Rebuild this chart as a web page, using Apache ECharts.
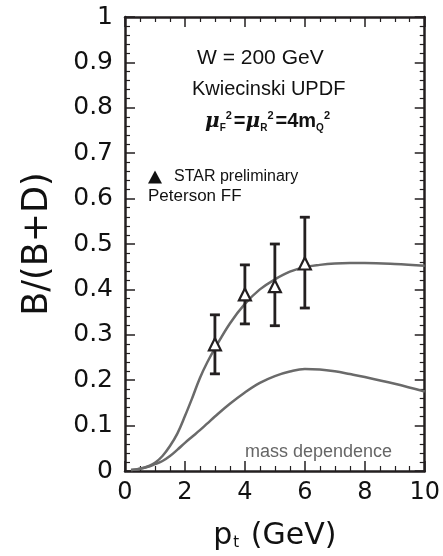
<!DOCTYPE html>
<html>
<head>
<meta charset="utf-8">
<script src="https://cdn.jsdelivr.net/npm/echarts@6/dist/echarts.min.js"></script>
<style>html,body{margin:0;padding:0;background:#fff;}#c{width:443px;height:556px;}</style>
</head>
<body>
<div id="c"></div>
<script>
// Data
const dataPt = [3, 4, 5, 6];
const dataRatio = [0.279, 0.389, 0.407, 0.457];
const dataLow = [0.214, 0.324, 0.320, 0.359];
const dataHigh = [0.344, 0.454, 0.500, 0.559];

const curvePt = [0.2, 0.5, 0.8, 1.0, 1.25, 1.5, 1.75, 2, 2.25, 2.5, 2.75, 3, 3.5, 4, 4.5, 5, 5.5, 6, 6.5, 7, 7.5, 8, 9, 10];
const curveUpper = [0.002, 0.005, 0.011, 0.018, 0.033, 0.055, 0.083, 0.121, 0.162, 0.205, 0.240, 0.270, 0.325, 0.368, 0.400, 0.422, 0.439, 0.449, 0.454, 0.457, 0.458, 0.458, 0.456, 0.452];
const curveLower = [0.002, 0.005, 0.010, 0.015, 0.022, 0.033, 0.047, 0.062, 0.076, 0.090, 0.105, 0.120, 0.148, 0.173, 0.194, 0.209, 0.219, 0.2245, 0.2235, 0.2195, 0.2135, 0.207, 0.192, 0.175];

const xTicks = {min: 0, max: 10, interval: 2};
const yTicks = {min: 0, max: 1, interval: 0.1};

const seriesNames = {data: 'STAR preliminary', upper: 'Peterson FF', lower: 'mass dependence'};

const AX = '#231f20';
const CURVE = '#6a6a6a';

const chart = echarts.init(document.getElementById('c'));

function axisCommon(showLabel) {
  return {
    axisLine: {show: true, onZero: false, lineStyle: {color: AX, width: 2.5}},
    axisTick: {show: true, inside: true, length: 10, lineStyle: {color: AX, width: 1.5}},
    minorTick: {show: true, length: 5, lineStyle: {color: AX, width: 1.2}},
    splitLine: {show: false},
    axisLabel: {show: showLabel}
  };
}

const option = {
  animation: false,
  backgroundColor: '#fff',
  grid: {left: 125, top: 17, width: 300, height: 463, containLabel: false},
  legend: {
    left: 143, top: 164, orient: 'vertical', itemGap: 8,
    itemWidth: 14, itemHeight: 13,
    textStyle: {fontFamily: 'Liberation Sans', fontSize: 16, color: '#111', padding: [0, 0, 0, 7]},
    data: [{name: seriesNames.data, icon: 'triangle', itemStyle: {color: '#111', borderWidth: 0, opacity: 1}}],
    selectedMode: false
  },
  xAxis: [
    Object.assign(axisCommon(true), {
      type: 'value', position: 'bottom', min: xTicks.min, max: xTicks.max, interval: xTicks.interval,
      minorTick: {show: true, splitNumber: 4, length: 5, lineStyle: {color: AX, width: 1.2}},
      axisLabel: {show: true, margin: 10, fontFamily: 'DejaVu Sans', fontSize: 24, color: '#111'},
      name: 'p{s|t} (GeV)', nameLocation: 'middle', nameGap: 50,
      nameTextStyle: {fontFamily: 'DejaVu Sans', fontSize: 30, color: '#111',
        rich: {s: {fontFamily: 'DejaVu Sans', fontSize: 15, verticalAlign: 'bottom', color: '#111', padding: [0, 2, 0, 1]}}}
    }),
    Object.assign(axisCommon(false), {
      type: 'value', position: 'top', min: xTicks.min, max: xTicks.max, interval: xTicks.interval,
      minorTick: {show: true, splitNumber: 4, length: 5, lineStyle: {color: AX, width: 1.2}}
    })
  ],
  yAxis: [
    Object.assign(axisCommon(true), {
      type: 'value', position: 'left', min: yTicks.min, max: yTicks.max, interval: yTicks.interval,
      minorTick: {show: true, splitNumber: 5, length: 5, lineStyle: {color: AX, width: 1.2}},
      axisLabel: {show: true, margin: 12, fontFamily: 'DejaVu Sans', fontSize: 25, color: '#111',
        formatter: v => (Math.round(v * 10) / 10).toString()},
      name: 'B/(B+D)', nameLocation: 'middle', nameGap: 70, nameRotate: 90,
      nameTextStyle: {fontFamily: 'DejaVu Sans', fontSize: 35, color: '#111'}
    }),
    Object.assign(axisCommon(false), {
      type: 'value', position: 'right', min: yTicks.min, max: yTicks.max, interval: yTicks.interval,
      minorTick: {show: true, splitNumber: 5, length: 5, lineStyle: {color: AX, width: 1.2}}
    })
  ],
  graphic: [
    {type: 'text', left: 267 - 70, top: 48, style: {text: 'W = 200 GeV', width: 140, align: 'center', font: '21px "Liberation Sans"', fill: '#111'}},
    {type: 'text', left: 272 - 80, top: 79, style: {text: 'Kwiecinski UPDF', width: 160, align: 'center', font: '20px "Liberation Sans"', fill: '#111'}},
    {type: 'text', left: 205, top: 110, style: {
      text: '{mu|μ}{s|F}{p|2}{n|=}{mu|μ}{s|R}{p|2}{n|=4m}{s|Q}{p|2}',
      rich: {
        mu: {font: 'italic bold 20px "DejaVu Serif"', fill: '#111', lineHeight: 23},
        n: {font: 'bold 20px "Liberation Sans"', fill: '#111', lineHeight: 23},
        s: {font: 'bold 10px "Liberation Sans"', fill: '#111', verticalAlign: 'bottom', lineHeight: 23},
        p: {font: 'bold 11px "Liberation Sans"', fill: '#111', verticalAlign: 'top', lineHeight: 23, padding: [0, 2, 0, 0]}
      }
    }},
    {type: 'text', left: 148, top: 188, style: {text: 'Peterson FF', font: '17px "Liberation Sans"', fill: '#111'}},
    {type: 'text', left: 245, top: 443, style: {text: 'mass dependence', font: '18px "Liberation Sans"', fill: '#666'}}
  ],
  series: [
    {
      name: seriesNames.upper, type: 'line', smooth: 0.4, showSymbol: false, symbol: 'none',
      data: curvePt.map((x, i) => [x, curveUpper[i]]),
      lineStyle: {color: CURVE, width: 2.5}, z: 2
    },
    {
      name: seriesNames.lower, type: 'line', smooth: 0.4, showSymbol: false, symbol: 'none',
      data: curvePt.map((x, i) => [x, curveLower[i]]),
      lineStyle: {color: CURVE, width: 2.5}, z: 2
    },
    {
      name: 'errors', type: 'custom', z: 3,
      data: dataPt.map((x, i) => [x, dataLow[i], dataHigh[i]]),
      renderItem: function (params, api) {
        const lo = api.coord([api.value(0), api.value(1)]);
        const hi = api.coord([api.value(0), api.value(2)]);
        const cw = 5;
        const st = {stroke: AX, lineWidth: 2.8};
        return {type: 'group', children: [
          {type: 'line', shape: {x1: lo[0], y1: lo[1], x2: hi[0], y2: hi[1]}, style: st},
          {type: 'line', shape: {x1: lo[0] - cw, y1: lo[1], x2: lo[0] + cw, y2: lo[1]}, style: st},
          {type: 'line', shape: {x1: hi[0] - cw, y1: hi[1], x2: hi[0] + cw, y2: hi[1]}, style: st}
        ]};
      }
    },
    {
      name: seriesNames.data, type: 'scatter', symbol: 'triangle', symbolSize: 12, z: 4,
      data: dataPt.map((x, i) => [x, dataRatio[i]]),
      itemStyle: {color: '#fff', borderColor: AX, borderWidth: 2.2, opacity: 1}
    }
  ]
};
chart.setOption(option);
</script>
</body>
</html>
